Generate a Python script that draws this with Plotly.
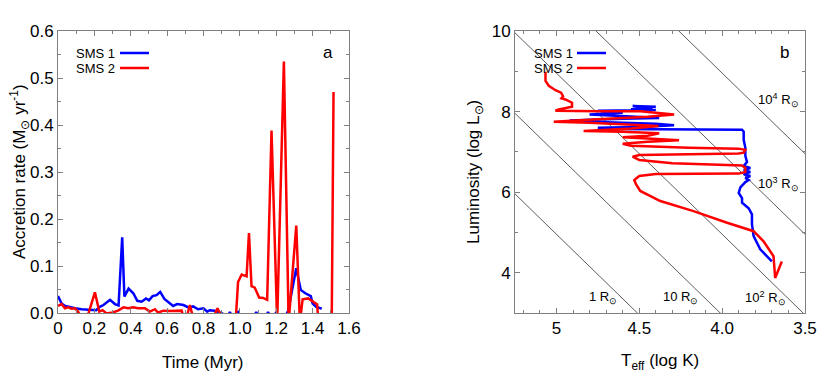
import numpy as np
import plotly.graph_objects as go

# ---------------- Panel a: accretion rate ----------------
t_sms1 = [0.00, 0.02, 0.04, 0.066, 0.093, 0.13, 0.176, 0.21, 0.23, 0.25, 0.286, 0.313, 0.333,
          0.353, 0.365, 0.388, 0.414, 0.436, 0.46, 0.484, 0.50, 0.52, 0.542, 0.562, 0.585,
          0.608, 0.633, 0.655, 0.69, 0.716, 0.743, 0.77, 0.80, 0.82, 0.835, 0.86, 0.88, 0.90,
          0.93, 0.945, 0.96, 0.99, 1.005, 1.075, 1.09, 1.105, 1.14, 1.155, 1.17, 1.185, 1.20,
          1.215, 1.245, 1.265, 1.31, 1.335, 1.36, 1.38, 1.39, 1.40, 1.42, 1.445, 1.45]
rate_sms1 = [0.036, 0.02, 0.015, 0.012, 0.01, 0.008, 0.006, 0.006, 0.013, 0.017, 0.028, 0.019, 0.016,
             0.161, 0.035, 0.052, 0.042, 0.026, 0.024, 0.031, 0.027, 0.036, 0.038, 0.045, 0.03,
             0.022, 0.015, 0.019, 0.017, 0.012, 0.014, 0.008, 0.01, 0.003, 0.006, 0.005, 0.003, 0.0,
             -0.01, 0.002, -0.01, 0.002, -0.01, -0.01, 0.002, -0.01, -0.01, 0.002, -0.01, -0.01, 0.002,
             -0.01, -0.01, 0.004, 0.095, 0.049, 0.042, 0.037, 0.036, 0.02, 0.013, 0.01, 0.009]

t_sms2 = [0.00, 0.02, 0.038, 0.055, 0.075, 0.093, 0.11, 0.128, 0.16, 0.203, 0.227, 0.245, 0.267,
          0.30, 0.33, 0.36, 0.386, 0.414, 0.44, 0.478, 0.505, 0.533, 0.55, 0.58, 0.615, 0.65, 0.68,
          0.69, 0.707, 0.725, 0.743, 0.853, 0.877, 0.90, 0.978, 0.99, 1.01, 1.037, 1.05, 1.064,
          1.082, 1.106, 1.128, 1.15, 1.174, 1.205, 1.242, 1.268, 1.31, 1.33, 1.345, 1.376, 1.406,
          1.425, 1.432, 1.505, 1.515]
rate_sms2 = [0.015, 0.019, 0.01, 0.012, 0.009, 0.01, 0.003, -0.01, -0.01, 0.044, 0.003, 0.006, -0.001,
             0.001, 0.005, 0.012, 0.01, 0.012, 0.01, 0.01, 0.003, 0.008, 0.001, 0.005, 0.004, 0.004, 0.005,
             -0.01, -0.01, 0.017, -0.01, -0.01, 0.01, -0.01, -0.01, 0.066, 0.082, 0.078, 0.17, 0.057,
             0.054, 0.033, 0.032, 0.028, 0.388, -0.02, 0.535, -0.02, 0.186, -0.02, 0.029, 0.031, 0.024,
             0.018, -0.02, -0.02, 0.47]

# ---------------- Panel b: HR diagram ----------------
logT_sms1 = [4.40, 4.54, 4.42, 4.55, 4.40, 4.75, 4.60, 4.80, 4.55, 4.38, 4.60, 4.92, 4.75, 4.55,
             4.40, 4.29, 4.50, 4.75, 4.69, 4.40, 4.10, 3.88, 3.87, 3.87, 3.86, 3.86, 3.85, 3.87,
             3.83, 3.87, 3.83, 3.87, 3.83, 3.86, 3.84, 3.86, 3.89, 3.90, 3.88, 3.88, 3.84, 3.82,
             3.82, 3.81, 3.77, 3.72, 3.70]
logL_sms1 = [8.12, 8.14, 8.08, 8.06, 8.04, 8.02, 7.97, 7.93, 7.88, 7.84, 7.82, 7.78, 7.74, 7.72,
             7.70, 7.66, 7.62, 7.60, 7.57, 7.56, 7.55, 7.55, 7.50, 7.30, 7.10, 6.90, 6.75, 6.65,
             6.60, 6.55, 6.50, 6.45, 6.40, 6.35, 6.30, 6.25, 6.12, 5.98, 5.85, 5.74, 5.60, 5.45,
             5.20, 4.91, 4.58, 4.35, 4.28]

logT_sms2 = [5.066, 5.066, 5.046, 5.006, 4.972, 4.96, 4.97, 4.946, 4.906, 4.906, 4.986, 5.006,
             4.75, 4.494, 4.29, 4.45, 4.75, 5.016, 4.80, 4.55, 4.384, 4.55, 4.836, 4.6, 4.38,
             4.45, 4.6, 4.45, 4.26, 4.45, 4.6, 4.55, 4.2, 3.9, 3.86, 3.87, 3.9, 4.2, 4.5, 4.54,
             4.5, 4.3, 4.0, 3.88, 3.86, 3.86, 3.9, 4.2, 4.4, 4.5, 4.53, 4.52, 4.494, 4.373, 4.173,
             3.97, 3.81, 3.75, 3.69, 3.68, 3.64]
logL_sms2 = [8.99, 8.76, 8.64, 8.53, 8.47, 8.38, 8.33, 8.30, 8.22, 8.12, 8.05, 8.02,
             8.01, 8.01, 7.925, 7.87, 7.81, 7.75, 7.72, 7.68, 7.64, 7.58, 7.52, 7.50, 7.46,
             7.40, 7.36, 7.33, 7.29, 7.25, 7.20, 7.15, 7.10, 7.08, 7.05, 6.98, 6.96, 6.94, 6.92,
             6.88, 6.80, 6.72, 6.68, 6.66, 6.60, 6.50, 6.46, 6.46, 6.45, 6.40, 6.30, 6.20, 6.03,
             5.78, 5.53, 5.24, 5.03, 4.78, 4.41, 3.87, 4.28]

radii_exp = [0, 1, 2, 3, 4]          # log10(R / Rsun)
radius_labels = ["1 R<sub>⊙</sub>", "10 R<sub>⊙</sub>", "10<sup>2</sup> R<sub>⊙</sub>",
                 "10<sup>3</sup> R<sub>⊙</sub>", "10<sup>4</sup> R<sub>⊙</sub>"]
LOG_TSUN = np.log10(5772.0)

FONT = "Liberation Sans, Arial, sans-serif"
W, H = 830, 378
OFF = 8  # page body margin
BLUE = "#0000ff"
RED = "#ff0000"
FRAME = "#808080"

def px(x):
    return (x - OFF) / W

def py(y):
    return 1 - (y - OFF) / H

fig = go.Figure()

fig.add_trace(go.Scatter(x=t_sms1, y=rate_sms1, mode="lines", line=dict(color=BLUE, width=2.5),
                         xaxis="x", yaxis="y", showlegend=False))
fig.add_trace(go.Scatter(x=t_sms2, y=rate_sms2, mode="lines", line=dict(color=RED, width=2.5),
                         xaxis="x", yaxis="y", showlegend=False))

# constant-radius lines
lt = np.array([3.4, 5.3])
for e in radii_exp:
    ll = 2 * e + 4 * (lt - LOG_TSUN)
    fig.add_trace(go.Scatter(x=lt, y=ll, mode="lines", line=dict(color="#333333", width=0.8),
                             xaxis="x2", yaxis="y2", showlegend=False, hoverinfo="skip"))

fig.add_trace(go.Scatter(x=logT_sms1, y=logL_sms1, mode="lines", line=dict(color=BLUE, width=2.5),
                         xaxis="x2", yaxis="y2", showlegend=False))
fig.add_trace(go.Scatter(x=logT_sms2, y=logL_sms2, mode="lines", line=dict(color=RED, width=2.5),
                         xaxis="x2", yaxis="y2", showlegend=False))

axis_common = dict(showline=True, linecolor=FRAME, linewidth=1, mirror="ticks", ticks="inside",
                   ticklen=5, tickcolor=FRAME, showgrid=False, zeroline=False, automargin=False,
                   tickfont=dict(family=FONT, size=17, color="black"))

fig.update_layout(
    template="none",
    width=W, height=H, margin=dict(l=0, r=0, t=0, b=0, pad=0), autosize=False,
    paper_bgcolor="white", plot_bgcolor="white",
    font=dict(family=FONT, color="black"),
    xaxis=dict(domain=[px(58), px(349)], range=[0, 1.6], tickvals=[0, 0.2, 0.4, 0.6, 0.8, 1.0, 1.2, 1.4, 1.6],
               ticktext=["0", "0.2", "0.4", "0.6", "0.8", "1.0", "1.2", "1.4", "1.6"],
               minor=dict(dtick=0.1, ticks="inside", ticklen=3, tickcolor=FRAME),
               anchor="y", **axis_common),
    yaxis=dict(domain=[py(313), py(31)], range=[0, 0.6], tickvals=[0, 0.1, 0.2, 0.3, 0.4, 0.5, 0.6],
               ticktext=["0.0", "0.1", "0.2", "0.3", "0.4", "0.5", "0.6"],
               minor=dict(dtick=0.05, ticks="inside", ticklen=3, tickcolor=FRAME),
               anchor="x", **axis_common),
    xaxis2=dict(domain=[px(515), px(805)], range=[5.25, 3.5], tickvals=[5, 4.5, 4.0, 3.5],
                ticktext=["5", "4.5", "4.0", "3.5"],
                minor=dict(dtick=0.1, tick0=3.5, ticks="inside", ticklen=3, tickcolor=FRAME),
                anchor="y2", **axis_common),
    yaxis2=dict(domain=[py(313), py(31)], range=[3, 10], tickvals=[4, 6, 8, 10],
                minor=dict(dtick=1, ticks="inside", ticklen=3, tickcolor=FRAME),
                anchor="x2", **axis_common),
)

ann = []

def label(text, x, y, size=17, angle=0, xanchor="center"):
    ann.append(dict(text=text, x=px(x), y=py(y), xref="paper", yref="paper",
                    xanchor=xanchor, yanchor="middle", showarrow=False, textangle=angle,
                    font=dict(size=size)))

# axis titles
label("Time (Myr)", 203, 362)
label("Accretion rate (M<sub>⊙</sub> yr<sup>-1</sup>)", 19, 172, angle=-90)
label("T<sub>eff</sub> (log K)", 660, 362)
label("Luminosity (log L<sub>⊙</sub>)", 475, 172, angle=-90)
# panel letters
label("a", 328, 52)
label("b", 784, 52)
# legends
shapes = []
for (tx, lx0, lx1) in [(74, 120, 149), (532, 577, 606)]:
    for name, col, yy in [("SMS 1", BLUE, 53), ("SMS 2", RED, 68)]:
        label(name, tx, yy, size=13, xanchor="left")
        shapes.append(dict(type="line", xref="paper", yref="paper", x0=px(lx0), x1=px(lx1),
                           y0=py(yy), y1=py(yy), line=dict(color=col, width=2.5)))
# radius labels (placed in data coordinates)
rl_pos = [(4.717, 3.375), (4.253, 3.375), (3.74, 3.375), (3.66, 6.2), (3.66, 8.28)]
for (x, y), lab in zip(rl_pos, radius_labels):
    ann.append(dict(text=lab, x=x, y=y, xref="x2", yref="y2", xanchor="center", yanchor="middle",
                    showarrow=False, font=dict(size=13)))

fig.update_layout(annotations=ann, shapes=shapes)
fig.write_html("out.html")
